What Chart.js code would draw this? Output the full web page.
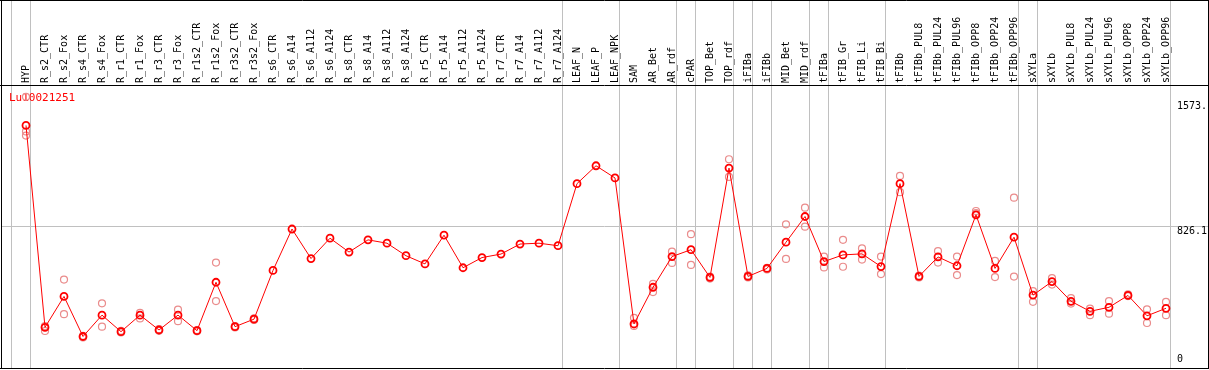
<!DOCTYPE html>
<html>
<head>
<meta charset="utf-8">
<script src="https://cdn.jsdelivr.net/npm/chart.js@4/dist/chart.umd.min.js"></script>
<style>
  html, body { margin: 0; padding: 0; background: #fff; }
  canvas { display: block; }
</style>
</head>
<body>
<canvas id="grafico" width="1209" height="370"></canvas>
<script>
const titulo = 'Lu10021251';

const categorias = [
    'HYP',
    'R_s2_CTR', 'R_s2_Fox', 'R_s4_CTR', 'R_s4_Fox', 'R_r1_CTR', 'R_r1_Fox', 'R_r3_CTR', 'R_r3_Fox',
    'R_r1s2_CTR', 'R_r1s2_Fox', 'R_r3s2_CTR', 'R_r3s2_Fox',
    'R_s6_CTR', 'R_s6_A14', 'R_s6_A112', 'R_s6_A124', 'R_s8_CTR', 'R_s8_A14', 'R_s8_A112', 'R_s8_A124',
    'R_r5_CTR', 'R_r5_A14', 'R_r5_A112', 'R_r5_A124', 'R_r7_CTR', 'R_r7_A14', 'R_r7_A112', 'R_r7_A124',
    'LEAF_N', 'LEAF_P', 'LEAF_NPK',
    'SAM', 'AR_Bet', 'AR_rdf',
    'cPAR',
    'TOP_Bet', 'TOP_rdf',
    'iFIBa', 'iFIBb',
    'MID_Bet', 'MID_rdf',
    'tFIBa', 'tFIB_Gr', 'tFIB_Li', 'tFIB_Bi',
    'tFIBb', 'tFIBb_PUL8', 'tFIBb_PUL24', 'tFIBb_PUL96', 'tFIBb_OPP8', 'tFIBb_OPP24', 'tFIBb_OPP96',
    'sXYLa',
    'sXYLb', 'sXYLb_PUL8', 'sXYLb_PUL24', 'sXYLb_PUL96', 'sXYLb_OPP8', 'sXYLb_OPP24', 'sXYLb_OPP96'
];

// tamaño de cada grupo de tejidos (separados por líneas grises)
const grupos = [1, 28, 3, 3, 1, 2, 1, 1, 2, 1, 3, 7, 1, 7];

const media = [
    1431,
    221, 406, 166, 294, 195, 294, 205, 294,
    201, 491, 225, 270,
    562, 810, 633, 755, 672, 745, 725, 650,
    601, 773, 578, 639, 660, 720, 725, 710,
    1082, 1189, 1116,
    241, 461, 645,
    686,
    520, 1175,
    526, 574,
    731, 885,
    615, 655, 661, 585,
    1082, 526, 643, 590, 895, 574, 761,
    414,
    495, 377, 317, 341, 412, 290, 335
];

const repA = [
    1602,
    229, 507, 170, 365, 200, 307, 210, 327,
    205, 609, 229, 275,
    null, null, null, null, null, null, null, null,
    null, null, null, null, null, null, null, null,
    null, null, null,
    278, 481, 674,
    779,
    525, 1228,
    532, 577,
    838, 938,
    645, 745, 694, 645,
    1128, 531, 678, 645, 918, 619, 998,
    438,
    516, 396, 333, 378, 418, 329, 373
];

const repB = [
    1370,
    199, 300, 160, 225, 190, 274, 200, 258,
    197, 378, 220, 265,
    null, null, null, null, null, null, null, null,
    null, null, null, null, null, null, null, null,
    null, null, null,
    229, 432, 607,
    595,
    513, 1122,
    520, 568,
    631, 824,
    580, 584, 627, 540,
    1031, 520, 609, 534, 895, 522, 525,
    374,
    477, 363, 294, 303, 408, 247, 294
];

const repC = [
    1395,
    null, null, null, null, null, null, null, null,
    null, null, null, null,
    null, null, null, null, null, null, null, null,
    null, null, null, null, null, null, null, null,
    null, null, null,
    null, null, null,
    null,
    null, null,
    null, null,
    null, null,
    null, null, null, null,
    null, null, null, null, 905, null, null,
    null,
    null, null, null, null, null, null, null
];

const yTicks = [0, 826.1, 1573];
const yEtiquetas = ['0', '826.1', '1573.'];
const yMax = 1673;

const fuente = '"DejaVu Sans Mono", "Liberation Mono", monospace';

const marco = {
    id: 'marco',
    beforeDatasetsDraw(chart) {
        const c = chart.ctx;
        const x = chart.scales.x;
        const y = chart.scales.y;
        c.save();
        c.strokeStyle = '#c0c0c0';
        c.lineWidth = 1;
        // linea horizontal del valor intermedio
        yTicks.forEach((v, i) => {
            if (i === 0 || i === yTicks.length - 1) return;
            const py = Math.round(y.getPixelForValue(v)) + 0.5;
            c.beginPath();
            c.moveTo(1, py);
            c.lineTo(1208, py);
            c.stroke();
        });
        // separadores de grupo
        const paso = x.getPixelForValue(1) - x.getPixelForValue(0);
        let fin = -1;
        const bordes = [fin];
        grupos.forEach(n => { fin += n; bordes.push(fin); });
        bordes.forEach(k => {
            const px = Math.round(x.getPixelForValue(0) + k * paso) + 4.5;
            c.beginPath();
            c.moveTo(px, 0);
            c.lineTo(px, 368);
            c.stroke();
        });
        c.fillStyle = '#ff0000';
        c.font = '11px ' + fuente;
        c.textBaseline = 'alphabetic';
        c.textAlign = 'left';
        c.fillText(titulo, 9, 101);
        c.restore();
    },
    afterDraw(chart) {
        const c = chart.ctx;
        const x = chart.scales.x;
        const y = chart.scales.y;
        c.save();
        // marco negro
        c.strokeStyle = '#000';
        c.lineWidth = 1;
        c.beginPath();
        c.moveTo(0, 0.5); c.lineTo(1209, 0.5);
        c.moveTo(0, 85.5); c.lineTo(1209, 85.5);
        c.moveTo(0, 368.5); c.lineTo(1209, 368.5);
        c.moveTo(1.5, 0); c.lineTo(1.5, 369);
        c.moveTo(1208.5, 0); c.lineTo(1208.5, 369);
        c.stroke();
        // etiquetas de categorias giradas
        c.fillStyle = '#000';
        c.font = '10px ' + fuente;
        c.textAlign = 'left';
        c.textBaseline = 'middle';
        categorias.forEach((cat, i) => {
            c.save();
            c.translate(x.getPixelForValue(i), 83);
            c.rotate(-Math.PI / 2);
            c.fillText(cat, 0, 0);
            c.restore();
        });
        // etiquetas del eje y
        yTicks.forEach((v, i) => {
            const py = y.getPixelForValue(v);
            if (i === 0) {
                c.textBaseline = 'alphabetic';
                c.fillText(yEtiquetas[i], 1177, py - 2);
            } else {
                c.textBaseline = 'top';
                c.fillText(yEtiquetas[i], 1177, py);
            }
        });
        c.restore();
    }
};

function replica(datos) {
    return {
        data: datos,
        showLine: false,
        borderColor: '#ea8c8c',
        backgroundColor: 'rgba(0,0,0,0)',
        pointRadius: 3.5,
        pointBorderWidth: 1.2,
        pointStyle: 'circle',
        clip: false,
        order: 2
    };
}

document.addEventListener('DOMContentLoaded', function () {
    const ctx = document.getElementById('grafico').getContext('2d');
    new Chart(ctx, {
        type: 'line',
        data: {
            labels: categorias,
            datasets: [
                {
                    label: titulo,
                    data: media,
                    borderColor: '#ff0000',
                    borderWidth: 1,
                    backgroundColor: 'rgba(0,0,0,0)',
                    pointRadius: 3.5,
                    pointBorderWidth: 1.8,
                    pointBorderColor: '#ff0000',
                    pointBackgroundColor: 'rgba(0,0,0,0)',
                    tension: 0,
                    clip: false,
                    order: 0
                },
                replica(repA),
                replica(repB),
                replica(repC)
            ]
        },
        options: {
            responsive: false,
            animation: false,
            layout: {
                padding: { left: 26, right: 43, top: 85, bottom: 2 }
            },
            scales: {
                x: {
                    type: 'category',
                    offset: false,
                    display: false
                },
                y: {
                    min: 0,
                    max: yMax,
                    display: false
                }
            },
            plugins: {
                legend: { display: false },
                tooltip: { enabled: false }
            }
        },
        plugins: [marco]
    });
});
</script>
</body>
</html>
